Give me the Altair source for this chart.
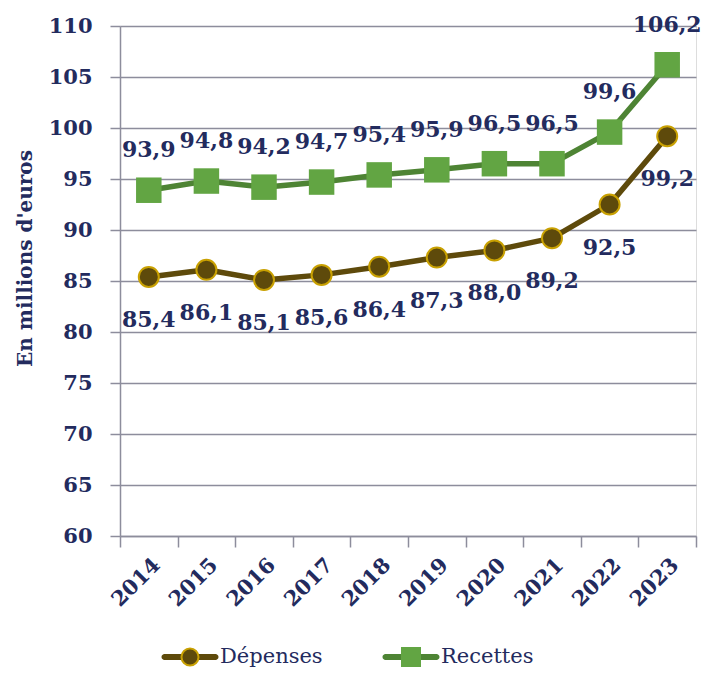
import altair as alt
import pandas as pd

years = ["2014", "2015", "2016", "2017", "2018", "2019", "2020", "2021", "2022", "2023"]
depenses = [85.4, 86.1, 85.1, 85.6, 86.4, 87.3, 88.0, 89.2, 92.5, 99.2]
recettes = [93.9, 94.8, 94.2, 94.7, 95.4, 95.9, 96.5, 96.5, 99.6, 106.2]
series = ["Dépenses", "Recettes"]
y_ticks = [60, 65, 70, 75, 80, 85, 90, 95, 100, 105, 110]

rows = []
for s, vals in zip(series, [depenses, recettes]):
    for yr, v in zip(years, vals):
        rows.append({"annee": yr, "serie": s, "valeur": v})
df = pd.DataFrame(rows)

NAVY = "#232B5E"
GRID = "#8D8D9C"
BROWN = "#5E4A0B"
GOLD = "#C9A102"
GREEN_LINE = "#4E8434"
GREEN_FILL = "#62A543"
FONT = "DejaVu Serif"

BOUNDS = "M-2.85,-0.9 M2.85,0.9 "
LINE_PATH = BOUNDS + ("M-2.55,-0.3H-0.8V0.3H-2.55A0.3,0.3 0 0 1 -2.55,-0.3Z "
                      "M0.8,-0.3H2.55A0.3,0.3 0 0 1 2.55,0.3H0.8Z")
CIRCLE_PATH = BOUNDS + "M0.85,0A0.85,0.85 0 1 1 -0.85,0A0.85,0.85 0 1 1 0.85,0Z"
SQUARE_PATH = BOUNDS + "M-0.9,-0.9H0.9V0.9H-0.9Z"

x_enc = alt.X(
    "annee:N",
    scale=alt.Scale(type="band", domain=years, paddingInner=0, paddingOuter=0),
    axis=alt.Axis(
        title=None, labelAngle=315, tickBand="extent", labelFont=FONT,
        labelFontSize=21, labelFontWeight="bold", labelColor=NAVY,
        labelPadding=7, tickSize=11, tickColor=GRID, tickWidth=1.5,
        domainColor=GRID, domainWidth=1.5, grid=False,
    ),
)
y_enc = alt.Y(
    "valeur:Q",
    scale=alt.Scale(domain=[60, 110], nice=False, zero=False),
    axis=alt.Axis(
        values=y_ticks, title="En millions d'euros", titleFont=FONT,
        titleFontSize=20, titleFontWeight="bold", titleColor=NAVY,
        titlePadding=13, titleY=232, labelFont=FONT, labelFontSize=21,
        labelFontWeight="bold", labelColor=NAVY, labelPadding=18,
        tickSize=10, tickColor=GRID, tickWidth=1.5, domainColor=GRID,
        domainWidth=1.5, gridColor=GRID, gridWidth=1.5, grid=True,
    ),
)

base = alt.Chart(df).encode(x=x_enc, y=y_enc).transform_calculate(
    lab="replace(format(datum.valeur, '.1f'), '.', ',')"
)
dep = base.transform_filter(alt.datum.serie == "Dépenses")
rec = base.transform_filter(alt.datum.serie == "Recettes")

dep_line = dep.mark_line(color=BROWN, strokeWidth=5.5, strokeCap="round", strokeJoin="round")
rec_line = rec.mark_line(color=GREEN_LINE, strokeWidth=5.5, strokeCap="round", strokeJoin="round")
dep_pts = dep.mark_point(shape="circle", filled=True, fill=BROWN, stroke=GOLD,
                         strokeWidth=2, size=400, opacity=1)
rec_pts = rec.mark_point(shape="square", filled=True, fill=GREEN_FILL,
                         size=650, opacity=1)
dep_txt = dep.mark_text(font=FONT, fontSize=22, fontWeight="bold", color=NAVY,
                        dy=43, baseline="middle").encode(text="lab:N")
rec_txt = rec.mark_text(font=FONT, fontSize=22, fontWeight="bold", color=NAVY,
                        dy=-40, baseline="middle").encode(text="lab:N")


def make_legend(stroke_color, label_opacity):
    extra = {"symbolStrokeColor": stroke_color} if stroke_color else {}
    return alt.Legend(
        title=None, orient="none", legendX=59, legendY=620,
        direction="horizontal", symbolSize=400, symbolStrokeWidth=2,
        labelFont=FONT, labelFontSize=21, labelColor=NAVY,
        labelOffset=19, columnPadding=55, padding=0,
        labelOpacity=label_opacity, symbolOpacity=1, **extra,
    )


leg_a_legend = make_legend("transparent", 1)
leg_a = alt.Chart(df).transform_filter("false").mark_point(filled=True).encode(
    fill=alt.Fill("serie:N", scale=alt.Scale(domain=series, range=[BROWN, GREEN_LINE]),
                  legend=leg_a_legend),
    shape=alt.Shape("serie:N", scale=alt.Scale(domain=series, range=[LINE_PATH, LINE_PATH]),
                    legend=leg_a_legend),
)
leg_b_legend = make_legend(None, 0)
leg_b = alt.Chart(df).transform_filter("false").mark_point(filled=True).encode(
    fill=alt.Fill("serie:N", scale=alt.Scale(domain=series, range=[BROWN, GREEN_FILL]),
                  legend=leg_b_legend),
    stroke=alt.Stroke("serie:N", scale=alt.Scale(domain=series, range=[GOLD, GREEN_FILL]),
                      legend=leg_b_legend),
    shape=alt.Shape("serie:N", scale=alt.Scale(domain=series, range=[CIRCLE_PATH, SQUARE_PATH]),
                    legend=leg_b_legend),
)

chart = alt.layer(
    dep_line, rec_line, dep_pts, rec_pts, dep_txt, rec_txt, leg_a, leg_b
).resolve_scale(
    fill="independent", shape="independent", stroke="independent"
).properties(
    width=576, height=510,
    padding={"left": 7, "top": 5, "right": 0, "bottom": 0},
).configure_view(stroke=None).configure(background="white")

chart.save("out.html", embed_options={"renderer": "svg", "actions": False})
